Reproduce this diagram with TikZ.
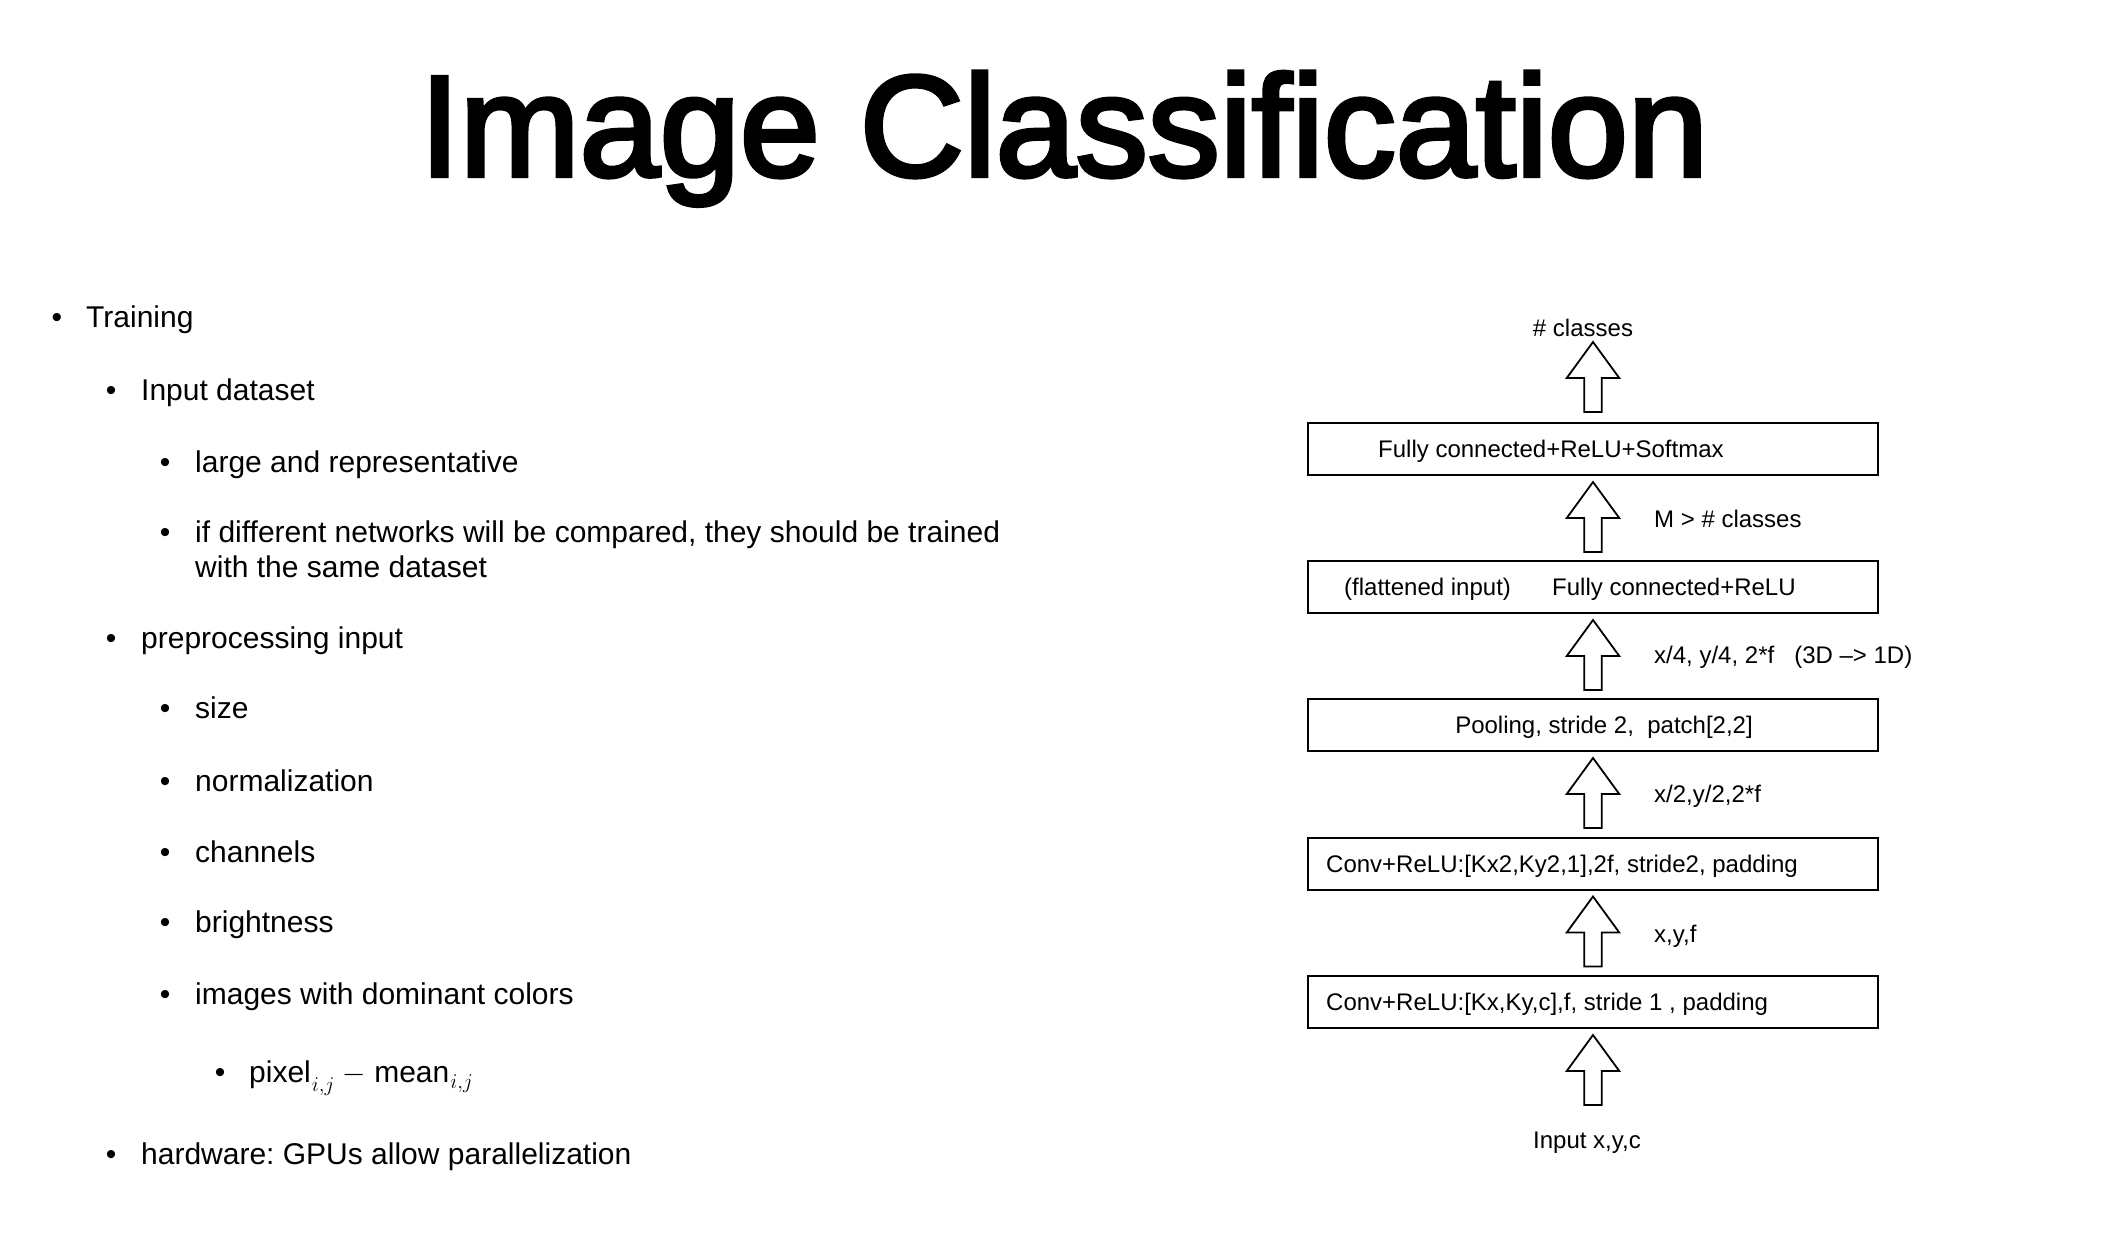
\RequirePackage{fix-cm}
\documentclass[tikz,border=0pt]{standalone}
\usepackage{fontspec}
\setmainfont{Liberation Sans}
\newfontfamily\mytitlefont[FakeBold=3]{Liberation Sans}
\usetikzlibrary{calc}
\frenchspacing
\newcommand{\myBody}{\fontsize{30}{36}\selectfont}
\newcommand{\myDiag}{\fontsize{24}{28}\selectfont}
\newcommand{\mySub}[2]{\kern1pt\raisebox{-#1}{\fontsize{21}{22}\selectfont$#2$}}
\newcommand{\blkarrow}[2]{\draw[blockarr] ($(#1)+(-8.75,0)$) -- ($(#2)+(-8.75,36)$) -- ($(#2)+(-26.25,36)$) -- (#2) -- ($(#2)+(26.25,36)$) -- ($(#2)+(8.75,36)$) -- ($(#1)+(8.75,0)$) -- cycle;}
\tikzset{
  bul/.style={anchor=base, inner sep=0pt, font=\myBody},
  item/.style={anchor=base west, inner sep=0pt, font=\myBody},
  layerbox/.style={draw=black, line width=2pt, minimum width=570pt, minimum height=52pt, inner sep=0pt, outer sep=0pt},
  boxtext/.style={anchor=base west, inner sep=0pt, font=\myDiag},
  sidelabel/.style={anchor=base west, inner sep=0pt, font=\myDiag},
  endlabel/.style={anchor=base, inner sep=0pt, font=\myDiag},
  blockarr/.style={draw=black, line width=1.8pt, fill=white, line join=miter}
}
\begin{document}
\begin{tikzpicture}[x=1pt, y=-1pt]
\useasboundingbox (0,0) rectangle (2112,1238);
\fill[white] (0,0) rectangle (2112,1238);

% Title
\node[anchor=base, inner sep=0pt, font=\mytitlefont\fontsize{144}{150}\selectfont] (title) at (1064,176) {Image Classification};

% Bullet list
\node[bul] (u1) at (57,328) {•};
\node[item] (t1) at (86,328) {Training};
\node[bul] (u2) at (111,400) {•};
\node[item] (t2) at (141,400) {Input dataset};
\node[bul] (u3) at (165,472) {•};
\node[item] (t3) at (195,472) {large and representative};
\node[bul] (u4) at (165,542) {•};
\node[item] (t4) at (195,542) {if different networks will be compared, they should be trained};
\node[item] (t4b) at (195,577) {with the same dataset};
\node[bul] (u5) at (111,648) {•};
\node[item] (t5) at (141,648) {preprocessing input};
\node[bul] (u6) at (165,718) {•};
\node[item] (t6) at (195,718) {size};
\node[bul] (u7) at (165,791) {•};
\node[item] (t7) at (195,791) {normalization};
\node[bul] (u8) at (165,862) {•};
\node[item] (t8) at (195,862) {channels};
\node[bul] (u9) at (165,932) {•};
\node[item] (t9) at (195,932) {brightness};
\node[bul] (u10) at (165,1004) {•};
\node[item] (t10) at (195,1004) {images with dominant colors};
\node[bul] (u11) at (220,1082) {•};
\node[item] (t11) at (249,1082) {pixel\mySub{9pt}{i{,}j} $-$ mean\mySub{6pt}{i{,}j}};
\node[bul] (u12) at (111,1164) {•};
\node[item] (t12) at (141,1164) {hardware: GPUs allow parallelization};

% Diagram boxes
\node[layerbox] (b1) at (1593,449) {};
\node[layerbox] (b2) at (1593,587) {};
\node[layerbox] (b3) at (1593,725) {};
\node[layerbox] (b4) at (1593,863.5) {};
\node[layerbox] (b5) at (1593,1002) {};

\node[boxtext] (b1t) at ($(b1.west)+(70,8.5)$) {Fully connected+ReLU+Softmax};
\node[boxtext] (b2ta) at ($(b2.west)+(36,8.5)$) {(flattened input)};
\node[boxtext] (b2tb) at ($(b2.west)+(244,8.5)$) {Fully connected+ReLU};
\node[anchor=base, inner sep=0pt, font=\myDiag] (b3t) at ($(b3.center)+(11,8.5)$) {Pooling, stride 2,\ \ patch[2,2]};
\node[boxtext] (b4t) at ($(b4.west)+(18,8.5)$) {Conv+ReLU:[Kx2,Ky2,1],2f, stride2, padding};
\node[boxtext] (b5t) at ($(b5.west)+(18,8.5)$) {Conv+ReLU:[Kx,Ky,c],f, stride 1 , padding};

% End labels
\node[endlabel] (cls) at (1583,337) {\# classes};
\node[endlabel] (inp) at (1587,1148) {Input x,y,c};

% Arrow coordinates
\coordinate (a0b) at ($(b1.north)+(0,-11)$);
\coordinate (a0t) at ($(a0b)+(0,-70)$);
\coordinate (a1t) at ($(b1.south)+(0,7)$);
\coordinate (a1b) at ($(a1t)+(0,70)$);
\coordinate (a2t) at ($(b2.south)+(0,7)$);
\coordinate (a2b) at ($(a2t)+(0,70)$);
\coordinate (a3t) at ($(b3.south)+(0,7)$);
\coordinate (a3b) at ($(a3t)+(0,70)$);
\coordinate (a4t) at ($(b4.south)+(0,7)$);
\coordinate (a4b) at ($(a4t)+(0,70)$);
\coordinate (a5t) at ($(b5.south)+(0,7)$);
\coordinate (a5b) at ($(a5t)+(0,70)$);

\blkarrow{a0b}{a0t}
\blkarrow{a1b}{a1t}
\blkarrow{a2b}{a2t}
\blkarrow{a3b}{a3t}
\blkarrow{a4b}{a4t}
\blkarrow{a5b}{a5t}

% Side labels
\node[sidelabel] (l1) at (1654,527) {M > \# classes};
\node[sidelabel] (l2) at (1654,663) {x/4, y/4, 2*f\ \ \ (3D –> 1D)};
\node[sidelabel] (l3) at (1654,802) {x/2,y/2,2*f};
\node[sidelabel] (l4) at (1654,942) {x,y,f};
\end{tikzpicture}
\end{document}
